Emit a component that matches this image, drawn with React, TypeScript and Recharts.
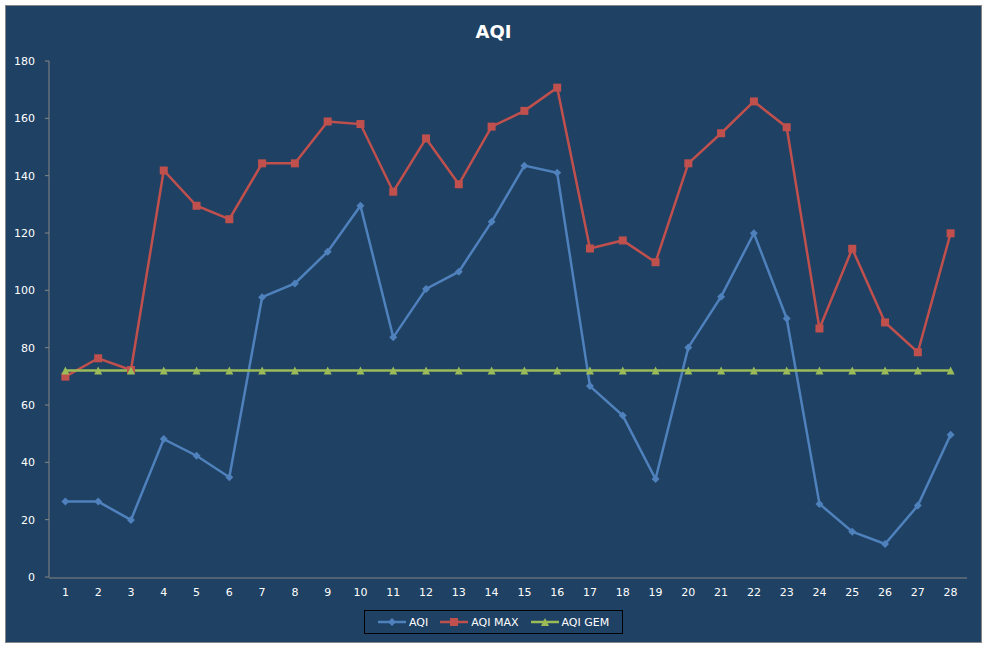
import React from 'react';
import { LineChart, Line, XAxis, YAxis } from 'recharts';

const days = [1, 2, 3, 4, 5, 6, 7, 8, 9, 10, 11, 12, 13, 14, 15, 16, 17, 18, 19, 20, 21, 22, 23, 24, 25, 26, 27, 28];

const aqi = [
  26.3, 26.3, 19.9, 48.1, 42.3, 34.8, 97.6, 102.4, 113.5, 129.5, 83.6, 100.5, 106.5, 123.9,
  143.5, 141.0, 66.6, 56.3, 34.2, 80.1, 97.8, 119.9, 90.2, 25.5, 15.8, 11.5, 24.9, 49.6,
];

const aqiMax = [
  69.9, 76.3, 72.2, 141.8, 129.5, 124.8, 144.3, 144.3, 158.9, 158.0, 134.4, 153.0, 137.0, 157.1,
  162.6, 170.7, 114.6, 117.4, 109.8, 144.3, 154.8, 165.9, 156.9, 86.7, 114.5, 88.8, 78.4, 119.9,
];

const aqiGem = [
  72, 72, 72, 72, 72, 72, 72, 72, 72, 72, 72, 72, 72, 72,
  72, 72, 72, 72, 72, 72, 72, 72, 72, 72, 72, 72, 72, 72,
];

const yTicks = [0, 20, 40, 60, 80, 100, 120, 140, 160, 180];

const data = days.map((day, i) => ({ day, aqi: aqi[i], aqiMax: aqiMax[i], aqiGem: aqiGem[i] }));

// category edges, where Excel puts its tick marks
const edges = [...days.map((d) => d - 0.5), days[days.length - 1] + 0.5];

const BG = '#1F4163';
const AXIS = '#868686';
const FONT = '"DejaVu Sans", Verdana, sans-serif';

const series = [
  { key: 'aqi', name: 'AQI', color: '#4F81BD', shape: 'diamond' },
  { key: 'aqiMax', name: 'AQI MAX', color: '#C0504D', shape: 'square' },
  { key: 'aqiGem', name: 'AQI GEM', color: '#9BBB59', shape: 'triangle' },
];

const Marker = ({ cx, cy, shape, color }: any) => {
  if (cx == null || cy == null) return null;
  if (shape === 'square') return <rect x={cx - 4} y={cy - 4} width={8} height={8} fill={color} />;
  if (shape === 'triangle')
    return <polygon points={`${cx},${cy - 4} ${cx + 4},${cy + 4} ${cx - 4},${cy + 4}`} fill={color} />;
  return <polygon points={`${cx},${cy - 4} ${cx + 4},${cy} ${cx},${cy + 4} ${cx - 4},${cy}`} fill={color} />;
};

const LegendBox = () => (
  <div
    style={{
      position: 'absolute',
      left: 364,
      top: 610,
      width: 259,
      height: 24,
      boxSizing: 'border-box',
      border: '1px solid #000',
      display: 'flex',
      alignItems: 'center',
      paddingLeft: 13,
      fontFamily: FONT,
      fontSize: 11,
      color: '#fff',
      whiteSpace: 'nowrap',
    }}
  >
    {series.map((s) => (
      <div key={s.key} style={{ display: 'flex', alignItems: 'center', marginRight: 12, flexShrink: 0 }}>
        <svg width={28} height={10} style={{ display: 'block' }}>
          <line x1={0} y1={5} x2={28} y2={5} stroke={s.color} strokeWidth={2.5} />
          <Marker cx={14} cy={5} shape={s.shape} color={s.color} />
        </svg>
        <span style={{ marginLeft: 3 }}>{s.name}</span>
      </div>
    ))}
  </div>
);

export default function App() {
  return (
    <div style={{ position: 'absolute', left: 0, top: 0, width: 987, height: 648, background: '#fff' }}>
      <div
        style={{
          position: 'absolute',
          left: 5,
          top: 5,
          width: 977,
          height: 638,
          boxSizing: 'border-box',
          border: `1px solid ${AXIS}`,
          background: BG,
        }}
      >
        <LineChart width={975} height={636} data={data} margin={{ top: 55, right: 14, bottom: 63, left: 0 }}>
          <YAxis
            domain={[0, 180]}
            ticks={yTicks}
            width={43}
            interval={0}
            stroke={AXIS}
            tickSize={4}
            tickMargin={10}
            tick={{ fill: '#fff', fontSize: 11, fontFamily: FONT }}
          />
          <XAxis
            xAxisId="edges"
            dataKey="day"
            type="number"
            domain={[0.5, 28.5]}
            ticks={edges}
            interval={0}
            height={1}
            stroke={AXIS}
            tickSize={4}
            tick={false}
          />
          <XAxis
            dataKey="day"
            type="number"
            domain={[0.5, 28.5]}
            ticks={days}
            interval={0}
            height={1}
            axisLine={false}
            tickLine={false}
            tickSize={0}
            tickMargin={11}
            tick={{ fill: '#fff', fontSize: 11, fontFamily: FONT }}
          />
          {series.map((s) => (
            <Line
              key={s.key}
              dataKey={s.key}
              name={s.name}
              stroke={s.color}
              strokeWidth={2.5}
              isAnimationActive={false}
              dot={(p: any) => <Marker key={`${s.key}-${p.index}`} cx={p.cx} cy={p.cy} shape={s.shape} color={s.color} />}
              activeDot={false}
            />
          ))}
        </LineChart>
        <div
          style={{
            position: 'absolute',
            left: 0,
            top: 15,
            width: '100%',
            textAlign: 'center',
            fontFamily: FONT,
            fontWeight: 'bold',
            fontSize: 18,
            color: '#fff',
          }}
        >
          AQI
        </div>
      </div>
      <LegendBox />
    </div>
  );
}
